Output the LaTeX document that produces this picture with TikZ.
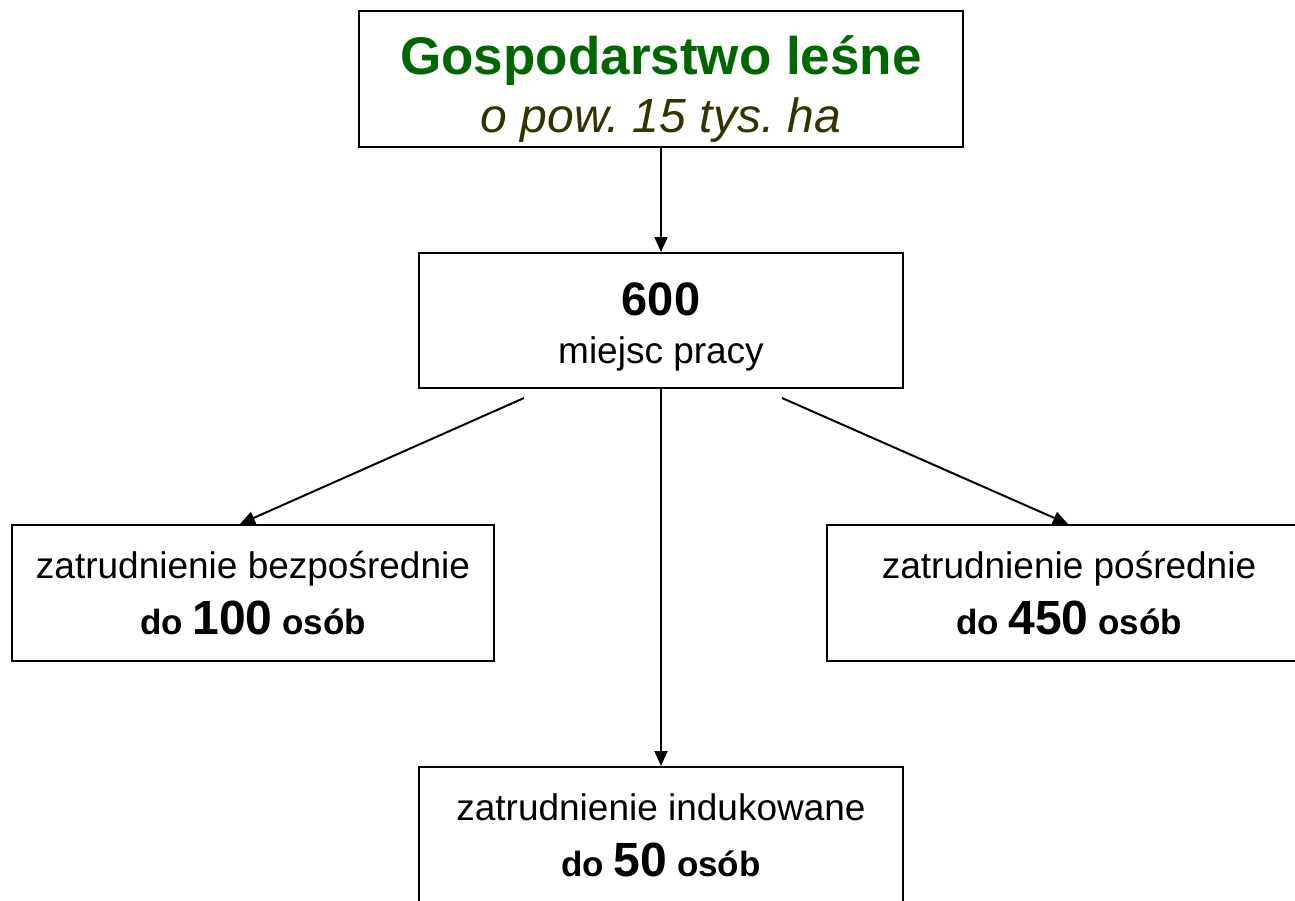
\documentclass[tikz,border=0pt]{standalone}
\usepackage{fontspec}
\setmainfont{Liberation Sans}
\frenchspacing
\usetikzlibrary{calc}
\usetikzlibrary{positioning}
\usetikzlibrary{arrows.meta}
\definecolor{forestgreen}{RGB}{0,102,0}
\definecolor{olivetext}{RGB}{51,51,0}

\begin{document}
\begin{tikzpicture}[x=1pt, y=-1pt,
  box/.style={draw, line width=2pt, align=center, inner sep=0pt,
    font=\fontsize{37}{56}\selectfont},
  arr/.style={line width=2pt, -{Triangle[length=15pt, width=13pt]}}]
  \useasboundingbox (0,0) rectangle (1295,900);

  \node [box, minimum width=604pt, minimum height=136pt,
    font=\fontsize{53}{58}\selectfont] (forest) at (661,79)
    {\rule{0pt}{59pt}\textcolor{forestgreen}{\bfseries Gospodarstwo leśne}\\
     \textcolor{olivetext}{\fontsize{48}{58}\selectfont\itshape o pow. 15 tys. ha}};
  \node [box, minimum width=484pt, minimum height=135pt,
    font=\fontsize{37}{48}\selectfont] (work) at (661,320.5)
    {\rule{0pt}{45pt}{\fontsize{47}{48}\selectfont\bfseries 600}\\ miejsc pracy};

  \node [box, minimum width=482pt, minimum height=136pt] (direct) at (253,593)
    {zatrudnienie bezpośrednie\\
     {\bfseries\fontsize{35}{56}\selectfont do {\fontsize{48}{56}\selectfont 100} osób}};
  \node [box, minimum width=484pt, minimum height=136pt] (indirect) at (1069,593)
    {zatrudnienie pośrednie\\
     {\bfseries\fontsize{35}{56}\selectfont do {\fontsize{48}{56}\selectfont 450} osób}};
  \node [box, minimum width=484pt, minimum height=136pt] (induced) at (661,835)
    {zatrudnienie indukowane\\
     {\bfseries\fontsize{35}{56}\selectfont do {\fontsize{48}{56}\selectfont 50} osób}};

  % connectors
  \draw [arr] (forest.south) -- (work.north);
  \draw [arr] (work.south) -- (induced.north);
  \coordinate (dl) at ($(work.south)+(-137,9)$);
  \coordinate (dr) at ($(work.south)+(121,9)$);
  \draw [arr] (dl) -- ($(direct.north)+(-13,0)$);
  \draw [arr] (dr) -- ($(indirect.north)+(-1,0)$);
\end{tikzpicture}
\end{document}
